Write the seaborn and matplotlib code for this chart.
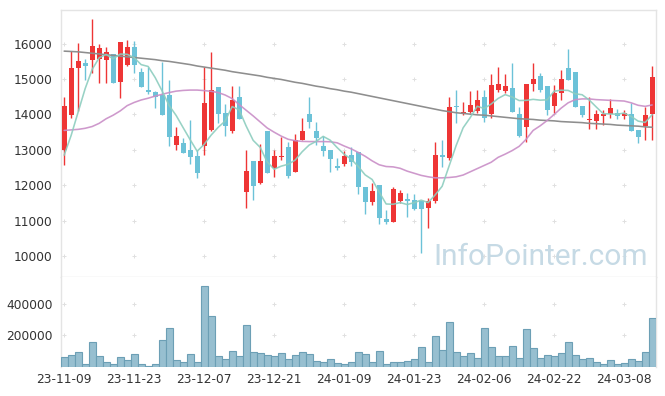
import matplotlib
matplotlib.use("Agg")
import matplotlib.pyplot as plt
import seaborn as sns
import numpy as np
import pandas as pd

dates = [
    "23-11-09", "23-11-10", "23-11-13", "23-11-14", "23-11-15", "23-11-16", "23-11-17",
    "23-11-20", "23-11-21", "23-11-22", "23-11-23", "23-11-24", "23-11-27", "23-11-28",
    "23-11-29", "23-11-30", "23-12-01", "23-12-04", "23-12-05", "23-12-06", "23-12-07",
    "23-12-08", "23-12-11", "23-12-12", "23-12-13", "23-12-14", "23-12-15", "23-12-18",
    "23-12-19", "23-12-20", "23-12-21", "23-12-22", "23-12-26", "23-12-27", "23-12-28",
    "24-01-02", "24-01-03", "24-01-04", "24-01-05", "24-01-08", "24-01-09", "24-01-10",
    "24-01-11", "24-01-12", "24-01-15", "24-01-16", "24-01-17", "24-01-18", "24-01-19",
    "24-01-22", "24-01-23", "24-01-24", "24-01-25", "24-01-26", "24-01-29", "24-01-30",
    "24-01-31", "24-02-01", "24-02-02", "24-02-05", "24-02-06", "24-02-07", "24-02-08",
    "24-02-13", "24-02-14", "24-02-15", "24-02-16", "24-02-19", "24-02-20", "24-02-21",
    "24-02-22", "24-02-23", "24-02-26", "24-02-27", "24-02-28", "24-02-29", "24-03-04",
    "24-03-05", "24-03-06", "24-03-07", "24-03-08", "24-03-11", "24-03-12", "24-03-13",
    "24-03-14",
]

opens = [
    12990, 13990, 15300, 15450, 15550, 15580, 15550, 15700, 14920, 15390,
    15910, 15200, 14690, 14640, 14540, 14540, 13150, 13190, 13000, 12830,
    13120, 13560, 14790, 14050, 13530, 14500, 11820, 12690, 12075, 13540,
    12480, 12800, 13070, 12385, 13280, 14015, 13535, 13110, 13000, 12545,
    12595, 12855, 12930, 11960, 11540, 12010, 11050, 10970, 11565, 11590,
    11585, 11565, 11350, 11565, 12845, 12765, 14240, 14035, 14070, 14110,
    14500, 14005, 14690, 14670, 14755, 14005, 13655, 14855, 15090, 14805,
    14240, 14600, 15305, 15200, 14240, 13845, 13825, 13960, 14005, 14035,
    13960, 14015, 13560, 13675, 14015,
]
highs = [
    14490, 15790, 16030, 15560, 16690, 15980, 15910, 15720, 16050, 16100,
    16070, 15300, 15340, 14660, 15490, 14970, 13650, 13330, 13845, 13000,
    15350, 15770, 14790, 14300, 14805, 14805, 13000, 12690, 13160, 13540,
    13000, 13370, 13230, 13440, 13890, 14485, 13780, 13390, 13000, 12760,
    12975, 13075, 12930, 11960, 12055, 12010, 11300, 11960, 11865, 11775,
    11755, 11565, 11630, 13230, 13280, 14505, 14690, 14360, 14665, 14690,
    14690, 15145, 15335, 15145, 15465, 14205, 14860, 15445, 15165, 14805,
    14835, 15255, 15840, 15200, 14240, 14485, 14125, 14125, 14430, 14145,
    14130, 14315, 13560, 14220, 15370,
]
lows = [
    12570, 13900, 14090, 14970, 15180, 14900, 14890, 14900, 14460, 15380,
    15180, 14785, 14590, 14190, 13985, 13100, 12990, 12900, 12600, 12200,
    12860, 13540, 13750, 13390, 13470, 13860, 11350, 11585, 12030, 12340,
    12230, 12715, 12200, 12380, 13280, 13610, 13140, 12840, 12385, 12430,
    12550, 12545, 11755, 11190, 11445, 10905, 10905, 10970, 11490, 11095,
    11300, 10100, 10785, 11490, 12510, 12715, 13750, 13985, 14050, 14035,
    13800, 13895, 14645, 14600, 14060, 13355, 13230, 14670, 14645, 13985,
    14035, 14410, 14975, 14200, 13920, 13580, 13580, 13705, 13895, 13865,
    13860, 13540, 13185, 13280, 13280,
]
closes = [
    14230, 15310, 15510, 15380, 15935, 15880, 15770, 14900, 16050, 15900,
    15410, 14785, 14640, 14490, 13990, 13360, 13380, 12920, 12790, 12360,
    14330, 14690, 14010, 13680, 14410, 13870, 12400, 11990, 12690, 12360,
    12830, 12830, 12260, 13280, 13535, 13780, 13345, 12970, 12745, 12490,
    12830, 12665, 11945, 11540, 11840, 11065, 10970, 11905, 11775, 11570,
    11320, 11330, 11565, 12855, 12790, 14205, 14205, 14070, 14270, 14410,
    13895, 14835, 14860, 14805, 14080, 13390, 14860, 15005, 14690, 14125,
    14615, 14995, 14975, 14220, 13985, 13880, 14015, 14015, 14175, 13960,
    14035, 13540, 13355, 13985, 15050,
]
volumes = [
    63000, 75800, 94700, 19000, 158000, 69500, 31600, 19000, 63000, 44000,
    82000, 19000, 6300, 19000, 170500, 246000, 44000, 31600, 82000, 31600,
    511000, 322000, 69500, 50500, 101000, 69500, 265000, 94700, 88400, 75800,
    69500, 88400, 50500, 75800, 94700, 82000, 38000, 31600, 50500, 25300,
    19000, 31600, 94700, 82100, 31600, 101000, 19000, 31600, 31600, 37900,
    50500, 126300, 31600, 195800, 107400, 284200, 94700, 69500, 88400, 56800,
    246300, 126300, 69500, 69500, 132600, 56800, 240000, 120000, 56800, 75800,
    69500, 88400, 157900, 75800, 50500, 56800, 31600, 19000, 44200, 19000,
    25300, 50500, 37900, 94700, 309500,
]
ma5 = [
    12850, 13410, 14070, 14730, 15273, 15603, 15695, 15573, 15707, 15700,
    15606, 15409, 15357, 15045, 14663, 14253, 13972, 13628, 13288, 12962,
    13156, 13418, 13636, 13814, 14224, 14132, 13674, 13270, 13072, 12662,
    12454, 12540, 12594, 12712, 12947, 13137, 13240, 13382, 13275, 13066,
    12876, 12740, 12535, 12294, 12164, 11811, 11472, 11464, 11511, 11457,
    11508, 11580, 11512, 11728, 11972, 12549, 13124, 13625, 13908, 14232,
    14170, 14296, 14454, 14561, 14495, 14394, 14399, 14428, 14405, 14414,
    14659, 14686, 14680, 14586, 14558, 14411, 14215, 14023, 14014, 14009,
    14040, 13945, 13813, 13775, 13993,
]
ma20 = [
    13550, 13565, 13580, 13610, 13660, 13750, 13880, 13980, 14100, 14250,
    14340, 14410, 14460, 14520, 14570, 14620, 14660, 14680, 14690, 14690,
    14675, 14655, 14620, 14550, 14450, 14280, 14120, 13960, 13790, 13620,
    13500, 13390, 13300, 13260, 13240, 13235, 13235, 13235, 13230, 13200,
    13110, 13030, 12930, 12820, 12690, 12580, 12530, 12520, 12480, 12400,
    12340, 12280, 12240, 12210, 12210, 12220, 12240, 12290, 12380, 12470,
    12560, 12650, 12790, 12880, 12980, 13100, 13300, 13550, 13680, 13830,
    14000, 14180, 14330, 14420, 14440, 14440, 14420, 14410, 14400, 14390,
    14380, 14330, 14260, 14230, 14270,
]
ma120 = [
    15790, 15780, 15770, 15750, 15730, 15710, 15690, 15670, 15650, 15630,
    15610, 15590, 15570, 15550, 15520, 15500, 15470, 15440, 15410, 15370,
    15340, 15310, 15280, 15250, 15210, 15180, 15150, 15120, 15090, 15050,
    15020, 14990, 14950, 14910, 14880, 14840, 14800, 14770, 14730, 14700,
    14660, 14630, 14590, 14550, 14510, 14470, 14430, 14390, 14350, 14310,
    14270, 14230, 14190, 14150, 14110, 14080, 14050, 14030, 14010, 13990,
    13980, 13960, 13940, 13920, 13900, 13880, 13870, 13860, 13840, 13830,
    13820, 13800, 13790, 13780, 13770, 13750, 13740, 13730, 13720, 13700,
    13690, 13680, 13670, 13650, 13640,
]
price_ticks = [10000, 11000, 12000, 13000, 14000, 15000, 16000]
volume_ticks = [200000, 400000]
watermark = "InfoPointer.com"

sns.set_theme(style="white")
plt.rcParams["font.family"] = ["DejaVu Sans"]

df = pd.DataFrame({
    "date": dates, "open": opens, "high": highs, "low": lows, "close": closes,
    "volume": volumes, "ma5": ma5, "ma20": ma20, "ma120": ma120,
})
df["idx"] = np.arange(len(df))

RED = "#ee3535"
BLUE = "#6cc2d8"
GRID = "#e0e0e0"
SPINE = "#e4e4e4"
TXT = "#333333"

W, H = 665, 396
fig = plt.figure(figsize=(W / 100, H / 100), dpi=100)
axp = fig.add_axes([61 / W, 1 - 277 / H, 595 / W, 267 / H])
axv = fig.add_axes([61 / W, 1 - 367 / H, 595 / W, 90 / H])

# candles
up = df["close"] >= df["open"]
colors = np.where(up, RED, BLUE)
axp.vlines(df["idx"], df["low"], df["high"], colors=colors, lw=1.0, zorder=2)
bottom = np.minimum(df["open"], df["close"])
height = np.maximum((df["close"] - df["open"]).abs(), 30)
axp.bar(df["idx"], height, bottom=bottom, width=0.72, color=colors,
        linewidth=0, zorder=3)

# moving averages
sns.lineplot(data=df, x="idx", y="ma120", ax=axp, color="#8e8e8e", lw=1.15, zorder=4)
sns.lineplot(data=df, x="idx", y="ma20", ax=axp, color="#c98ec7", lw=1.15, zorder=4, alpha=0.9)
sns.lineplot(data=df, x="idx", y="ma5", ax=axp, color="#8dcdbf", lw=1.15, zorder=5, alpha=0.9)

# volume
sns.barplot(data=df, x="idx", y="volume", ax=axv, native_scale=True, width=1.0,
            color="#97bfd0", edgecolor="#6c9fb5", linewidth=0.8, saturation=1,
            errorbar=None, zorder=3)

xmin, xmax = -0.45, len(df) - 0.45
tick_idx = list(range(0, len(df), 10))
for ax in (axp, axv):
    ax.set_xlim(xmin, xmax)
    ax.set_xlabel("")
    ax.set_ylabel("")
    ax.tick_params(length=0, colors=TXT, labelsize=8.8)
    for s in ax.spines.values():
        s.set_color(SPINE)
        s.set_linewidth(1.0)
    ax.set_xticks(tick_idx)

axp.set_ylim(9409, 16952)
axp.set_yticks(price_ticks)
axp.set_yticklabels([str(t) for t in price_ticks])
axp.set_xticklabels([])
axp.tick_params(axis="y", pad=6)

axv.set_ylim(0, 570000)
axv.set_yticks(volume_ticks)
axv.set_yticklabels([str(t) for t in volume_ticks])
axv.set_xticklabels([dates[i] for i in tick_idx])
axv.tick_params(axis="y", pad=6)
axv.tick_params(axis="x", pad=4)
axv.spines["top"].set_visible(False)
axv.spines["bottom"].set_visible(False)

# plus-shaped grid marks at tick intersections
gx, gy = np.meshgrid(tick_idx, price_ticks)
axp.scatter(gx.ravel(), gy.ravel(), marker="+", s=10, color=GRID, linewidths=0.7, zorder=1)
gx, gy = np.meshgrid(tick_idx, volume_ticks)
axv.scatter(gx.ravel(), gy.ravel(), marker="+", s=10, color=GRID, linewidths=0.7, zorder=1)

axp.text(0.986, 0.044, watermark, transform=axp.transAxes, ha="right", va="baseline",
         fontsize=21.5, family=["Roboto", "DejaVu Sans"], color="#c6dae5", zorder=1.5)

fig.savefig("out.png", dpi=100)
